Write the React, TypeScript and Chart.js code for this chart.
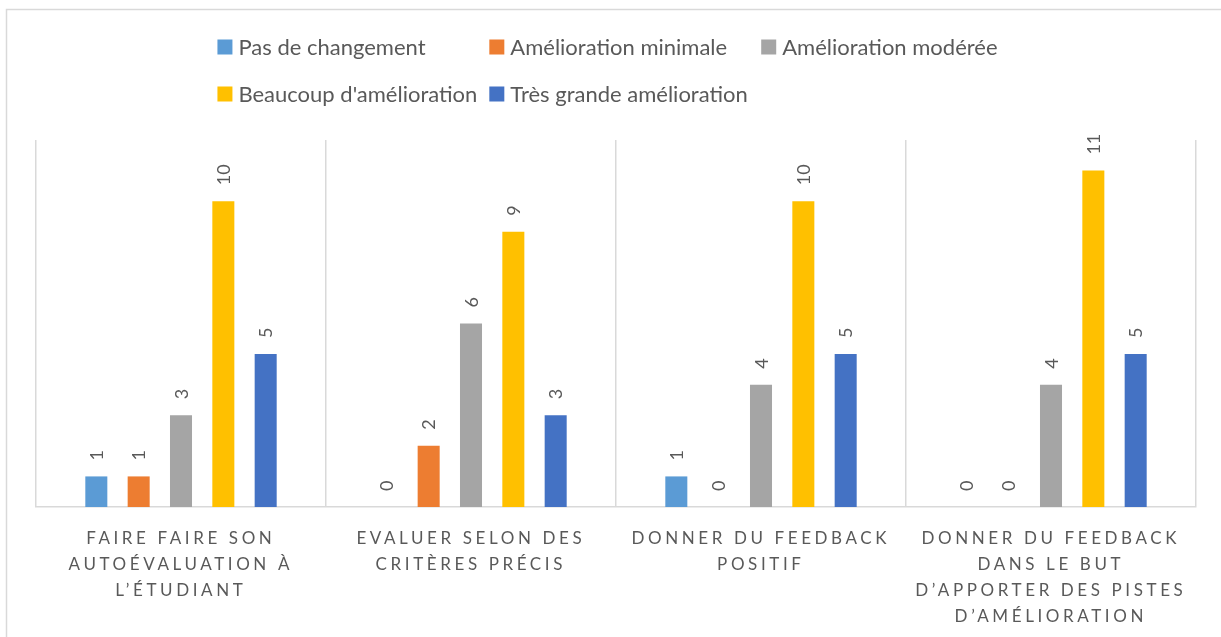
import React, { useEffect, useRef } from "react";
import { Chart, registerables } from "chart.js";

Chart.register(...registerables);

const categories: string[][] = [
  ["FAIRE FAIRE SON", "AUTOÉVALUATION À", "L’ÉTUDIANT"],
  ["EVALUER SELON DES", "CRITÈRES PRÉCIS"],
  ["DONNER DU FEEDBACK", "POSITIF"],
  ["DONNER DU FEEDBACK", "DANS LE BUT", "D’APPORTER DES PISTES", "D’AMÉLIORATION"],
];

const seriesNames = [
  "Pas de changement",
  "Amélioration minimale",
  "Amélioration modérée",
  "Beaucoup d'amélioration",
  "Très grande amélioration",
];

const pasDeChangement = [1, 0, 1, 0];
const ameliorationMinimale = [1, 2, 0, 0];
const ameliorationModeree = [3, 6, 4, 4];
const beaucoupAmelioration = [10, 9, 10, 11];
const tresGrandeAmelioration = [5, 3, 5, 5];

const seriesColors = ["#5B9BD5", "#ED7D31", "#A5A5A5", "#FFC000", "#4472C4"];

const TEXT = "#595959";
const GRID = "#D9D9D9";
const FONT = "Lato, 'Open Sans', sans-serif";

const borderPlugin = {
  id: "outerBorder",
  beforeDraw(chart: any) {
    const ctx = chart.ctx;
    ctx.save();
    ctx.fillStyle = "#ffffff";
    ctx.fillRect(0, 0, chart.width, chart.height);
    ctx.strokeStyle = GRID;
    ctx.lineWidth = 1.5;
    ctx.strokeRect(6.5, 9.5, chart.width + 20, chart.height + 20);
    ctx.restore();
  },
};

const legendPlugin = {
  id: "gridLegend",
  afterDraw(chart: any) {
    const ctx = chart.ctx;
    ctx.save();
    ctx.font = `22px ${FONT}`;
    ctx.textBaseline = "middle";
    ctx.textAlign = "left";
    const box = 15;
    const gap = 6;
    const cols = 3;
    const widths = seriesNames.map((n) => box + gap + ctx.measureText(n).width);
    const colW = Math.max(...widths) + 12;
    let lastMax = 0;
    widths.forEach((w, i) => {
      if (i % cols === cols - 1) lastMax = Math.max(lastMax, w);
    });
    const total = (cols - 1) * colW + lastMax;
    const startX = (chart.width - total) / 2 - 3;
    const rowY = [47, 94];
    chart.data.datasets.forEach((ds: any, i: number) => {
      const col = i % cols;
      const row = Math.floor(i / cols);
      const x = startX + col * colW;
      const y = rowY[row];
      ctx.fillStyle = ds.backgroundColor;
      ctx.fillRect(x, y - box / 2, box, box);
      ctx.fillStyle = TEXT;
      ctx.fillText(ds.label, x + box + gap, y + 1);
    });
    ctx.restore();
  },
};

const dataLabelPlugin = {
  id: "rotatedLabels",
  afterDatasetsDraw(chart: any) {
    const ctx = chart.ctx;
    ctx.save();
    ctx.font = `18px ${FONT}`;
    ctx.fillStyle = TEXT;
    ctx.textAlign = "left";
    ctx.textBaseline = "middle";
    chart.data.datasets.forEach((ds: any, di: number) => {
      const meta = chart.getDatasetMeta(di);
      meta.data.forEach((el: any, i: number) => {
        const v = ds.data[i];
        ctx.save();
        ctx.translate(el.x + 1, el.y - 16);
        ctx.rotate(-Math.PI / 2);
        ctx.fillText(String(v), 0, 0);
        ctx.restore();
      });
    });
    ctx.restore();
  },
};

const xLabelPlugin = {
  id: "spacedXLabels",
  afterDraw(chart: any) {
    const ctx = chart.ctx;
    const scale = chart.scales.x;
    ctx.save();
    ctx.font = `17px ${FONT}`;
    ctx.fillStyle = TEXT;
    ctx.textAlign = "center";
    ctx.textBaseline = "middle";
    const spacing = 3.6;
    (ctx as any).letterSpacing = `${spacing}px`;
    categories.forEach((lines, i) => {
      const cx = scale.getPixelForValue(i) + spacing / 2 - 2;
      lines.forEach((line, li) => {
        ctx.fillText(line, cx, 539 + li * 26);
      });
    });
    ctx.restore();
  },
};

export default function App() {
  const ref = useRef<HTMLCanvasElement | null>(null);
  useEffect(() => {
    if (!ref.current) return;
    const data = [
      pasDeChangement,
      ameliorationMinimale,
      ameliorationModeree,
      beaucoupAmelioration,
      tresGrandeAmelioration,
    ];
    const chart = new Chart(ref.current, {
      type: "bar",
      data: {
        labels: categories.map((c) => c.join(" ")),
        datasets: seriesNames.map((name, i) => ({
          label: name,
          data: data[i],
          backgroundColor: seriesColors[i],
          borderWidth: 0,
          categoryPercentage: 0.73,
          barPercentage: 0.52,
        })),
      },
      options: {
        responsive: false,
        animation: false,
        layout: { padding: { left: 36, right: 25, top: 140, bottom: 130 } },
        plugins: {
          legend: { display: false },
          tooltip: { enabled: false },
        },
        scales: {
          x: {
            grid: { display: true, color: GRID, lineWidth: 1.5, drawTicks: false, offset: true },
            border: { display: true, color: GRID, width: 1.5 },
            ticks: { display: false },
          },
          y: {
            display: false,
            min: 0,
            max: 12,
          },
        },
      },
      plugins: [borderPlugin, legendPlugin, dataLabelPlugin, xLabelPlugin],
    });
    return () => chart.destroy();
  }, []);
  return (
    <div style={{ position: "absolute", left: 0, top: 0, width: 1221, height: 637 }}>
      <canvas ref={ref} width={1221} height={637} />
    </div>
  );
}
